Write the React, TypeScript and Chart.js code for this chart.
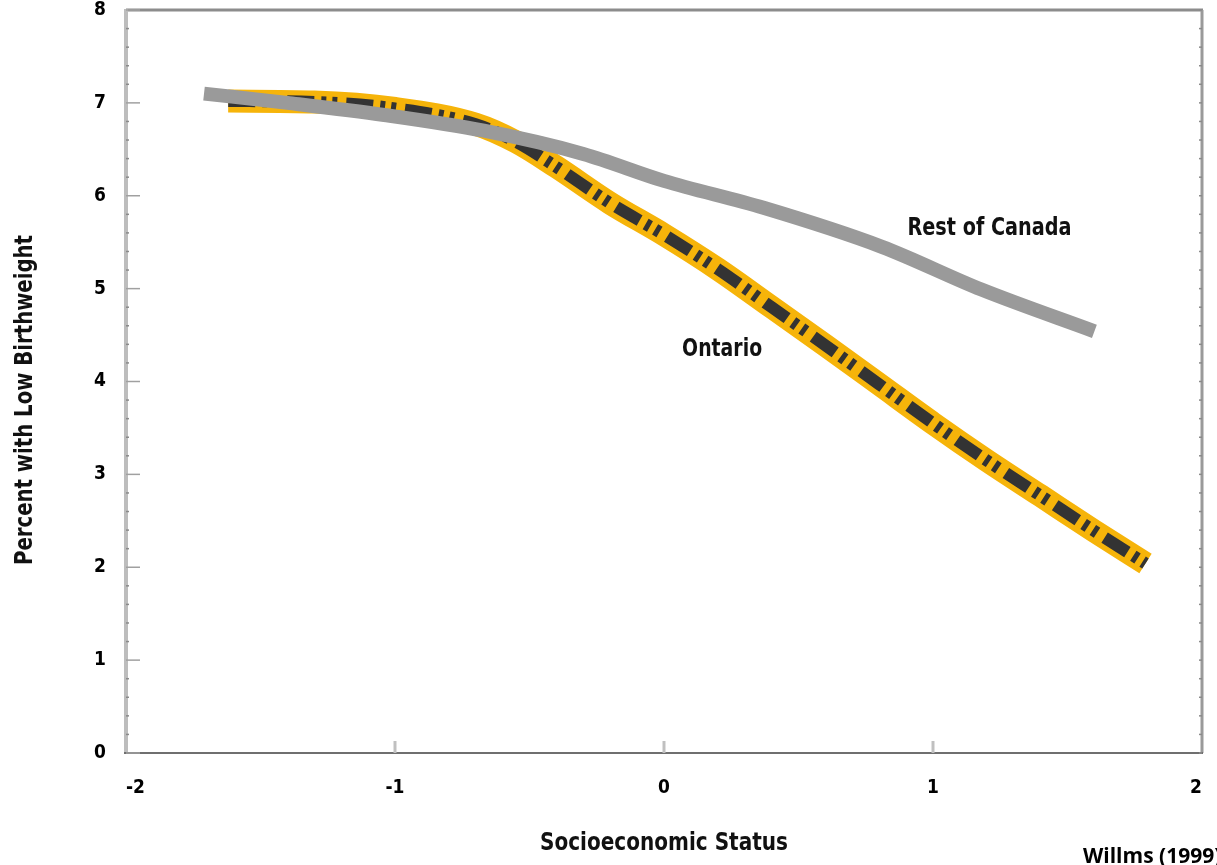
import React, { useEffect, useRef } from "react";
import { Chart, registerables } from "chart.js";

Chart.register(...registerables);

// ---- data ----
const ontarioSES = [-1.62, -1.3, -1.0, -0.7, -0.55, -0.4, -0.2, 0, 0.2, 0.4, 0.6, 0.8, 1.0, 1.2, 1.4, 1.6, 1.79];
const ontarioLBW = [7.02, 7.01, 6.94, 6.77, 6.58, 6.31, 5.92, 5.58, 5.21, 4.8, 4.39, 3.97, 3.55, 3.15, 2.77, 2.39, 2.04];
const canadaSES = [-1.71, -1.4, -1.04, -0.67, -0.3, 0, 0.37, 0.81, 1.18, 1.6];
const canadaLBW = [7.1, 7.0, 6.87, 6.7, 6.45, 6.16, 5.87, 5.45, 4.99, 4.54];
const xTickValues = [-2, -1, 0, 1, 2];
const yTickValues = [0, 1, 2, 3, 4, 5, 6, 7, 8];
const seriesLabels = ["Ontario", "Rest of Canada"];
const xTitle = "Socioeconomic Status";
const yTitle = "Percent with Low Birthweight";
const sourceNote = "Willms (1999)";
// label anchors in data units
const ontarioLabelAt = { x: 0.216, y: 4.34 };
const canadaLabelAt = { x: 1.21, y: 5.65 };

const COND = "'DejaVu Sans Condensed', 'DejaVu Sans', sans-serif";

const pts = (xs: number[], ys: number[]) => xs.map((x, i) => ({ x, y: ys[i] }));

function fitText(ctx: CanvasRenderingContext2D, text: string, cx: number, cy: number, width: number, px: number, rot = 0) {
  ctx.save();
  ctx.font = `bold ${px}px 'DejaVu Sans', sans-serif`;
  const w = ctx.measureText(text).width;
  ctx.translate(cx, cy);
  if (rot) ctx.rotate(rot);
  ctx.scale(width / w, 1);
  ctx.textAlign = "center";
  ctx.textBaseline = "middle";
  ctx.fillStyle = "#111";
  ctx.fillText(text, 0, 0);
  ctx.restore();
}

const framePlugin = {
  id: "frame",
  afterDatasetsDraw(chart: any) {
    const { ctx, chartArea: a, scales } = chart;
    const xs = scales.x;
    const ys = scales.y;
    ctx.save();
    // top border
    ctx.strokeStyle = "#8c8c8c";
    ctx.lineWidth = 3;
    ctx.beginPath();
    ctx.moveTo(a.left, a.top);
    ctx.lineTo(a.right + 1, a.top);
    ctx.stroke();
    // right border
    ctx.strokeStyle = "#9a9a9a";
    ctx.beginPath();
    ctx.moveTo(a.right, a.top);
    ctx.lineTo(a.right, a.bottom);
    ctx.stroke();
    // left axis
    ctx.strokeStyle = "#bdbdbd";
    ctx.lineWidth = 4;
    ctx.beginPath();
    ctx.moveTo(a.left, a.top - 1);
    ctx.lineTo(a.left, a.bottom);
    ctx.stroke();
    // bottom axis
    ctx.strokeStyle = "#6f6f6f";
    ctx.lineWidth = 2;
    ctx.beginPath();
    ctx.moveTo(a.left - 2, a.bottom);
    ctx.lineTo(a.right + 1, a.bottom);
    ctx.stroke();
    // y ticks (major and minor), both sides
    ctx.lineWidth = 1.5;
    for (let i = 0; i <= 40; i++) {
      const v = i / 5;
      const py = ys.getPixelForValue(v);
      const major = i % 5 === 0;
      ctx.strokeStyle = major ? "#a0a0a0" : "#8a8a8a";
      ctx.beginPath();
      ctx.moveTo(a.left, py);
      ctx.lineTo(a.left + (major ? 14 : 3), py);
      ctx.stroke();
      ctx.strokeStyle = "#8a8a8a";
      ctx.beginPath();
      ctx.moveTo(a.right, py);
      ctx.lineTo(a.right - 3, py);
      ctx.stroke();
    }
    // x major ticks
    ctx.strokeStyle = "#c0c0c0";
    ctx.lineWidth = 3;
    xTickValues.slice(1, -1).forEach((v) => {
      const px = xs.getPixelForValue(v);
      ctx.beginPath();
      ctx.moveTo(px, a.bottom);
      ctx.lineTo(px, a.bottom - 12);
      ctx.stroke();
    });
    ctx.restore();
    // series labels
    fitText(ctx, seriesLabels[0], xs.getPixelForValue(ontarioLabelAt.x), ys.getPixelForValue(ontarioLabelAt.y), 80, 25);
    fitText(ctx, seriesLabels[1], xs.getPixelForValue(canadaLabelAt.x), ys.getPixelForValue(canadaLabelAt.y), 164, 25);
    // axis titles
    fitText(ctx, xTitle, (a.left + a.right) / 2, 843, 248, 25);
    fitText(ctx, yTitle, 25, 400, 330, 25, -Math.PI / 2);
    // source note
    ctx.save();
    ctx.font = "bold 21px 'Open Sans', sans-serif";
    ctx.textAlign = "left";
    ctx.textBaseline = "alphabetic";
    ctx.fillStyle = "#000";
    ctx.fillText(sourceNote, 1083, 863);
    ctx.restore();
  },
};

export default function App() {
  const ref = useRef<HTMLCanvasElement | null>(null);
  useEffect(() => {
    if (!ref.current) return;
    const chart = new Chart(ref.current, {
      type: "line",
      data: {
        datasets: [
          {
            label: seriesLabels[1],
            data: pts(canadaSES, canadaLBW),
            borderColor: "#9a9a9a",
            borderWidth: 14,
            borderCapStyle: "butt",
            pointRadius: 0,
            cubicInterpolationMode: "monotone",
            fill: false,
            order: 0,
          },
          {
            label: seriesLabels[0] + " dashes",
            data: pts(ontarioSES, ontarioLBW),
            borderColor: "#333333",
            borderWidth: 12,
            borderDash: [27, 7, 5, 6, 5, 9],
            borderCapStyle: "butt",
            pointRadius: 0,
            cubicInterpolationMode: "monotone",
            fill: false,
            order: 1,
          },
          {
            label: seriesLabels[0],
            data: pts(ontarioSES, ontarioLBW),
            borderColor: "#f6b40a",
            borderWidth: 23,
            borderCapStyle: "butt",
            pointRadius: 0,
            cubicInterpolationMode: "monotone",
            fill: false,
            order: 2,
          },
        ],
      },
      options: {
        animation: false,
        responsive: true,
        maintainAspectRatio: false,
        layout: { padding: { top: 10, right: 15, left: 0, bottom: 0 } },
        plugins: { legend: { display: false }, tooltip: { enabled: false } },
        scales: {
          x: {
            type: "linear",
            min: -2,
            max: 2,
            afterBuildTicks: (s: any) => {
              s.ticks = xTickValues.map((v) => ({ value: v }));
            },
            afterFit: (s: any) => {
              s.height = 112;
              s.paddingLeft = 0;
              s.paddingRight = 0;
            },
            grid: { display: false, drawTicks: false },
            border: { display: false },
            ticks: {
              color: "#000",
              padding: 24,
              align: "inner",
              maxRotation: 0,
              font: { family: COND, weight: "bold", size: 19 },
            },
          },
          y: {
            min: 0,
            max: 8,
            afterBuildTicks: (s: any) => {
              s.ticks = yTickValues.map((v) => ({ value: v }));
            },
            afterFit: (s: any) => {
              s.width = 126;
              s.paddingTop = 0;
              s.paddingBottom = 0;
            },
            grid: { display: false, drawTicks: false },
            border: { display: false },
            ticks: {
              color: "#000",
              padding: 20,
              font: { family: COND, weight: "bold", size: 19 },
            },
          },
        },
      },
      plugins: [framePlugin],
    } as any);
    return () => chart.destroy();
  }, []);
  return (
    <div style={{ position: "absolute", left: 0, top: 0, width: 1217, height: 865, background: "#fff" }}>
      <canvas ref={ref} />
    </div>
  );
}
